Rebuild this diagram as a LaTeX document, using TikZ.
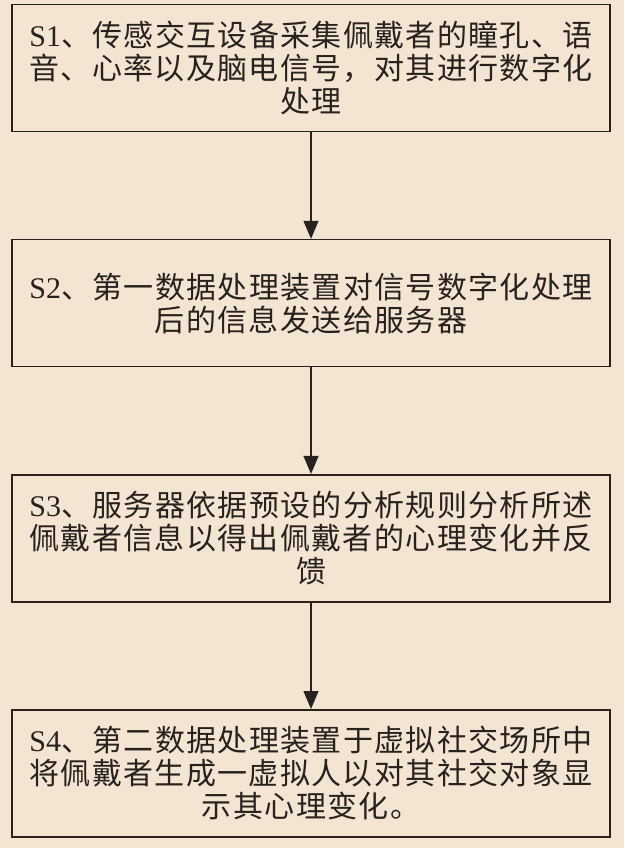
\documentclass[tikz,border=0pt]{standalone}
\usepackage{fontspec}
\setmainfont{Liberation Serif}
\newfontfamily\cjkfont[LetterSpace=4.5]{Noto Sans CJK SC}
\usetikzlibrary{positioning,arrows.meta}
\definecolor{paper}{RGB}{244,228,210}
\definecolor{ink}{RGB}{40,34,30}

\begin{document}
\begin{tikzpicture}
    [
      stepbox/.style = {draw=ink, line width=1.6pt, fill=paper,
        minimum width=598pt, minimum height=127pt, inner sep=0pt,
        text width=590pt, align=center, text=ink,
        font=\cjkfont\fontsize{30}{33}\selectfont},
      flow/.style = {draw=ink, line width=1.2pt,
        -{Triangle[length=18pt,width=15pt]}},
      node distance = 106.5pt,
    ]

    \fill[paper] (0,0) rectangle (624pt,-848pt);
    \useasboundingbox (0,0) rectangle (624pt,-848pt);

    \node[stepbox] (s1) at (311pt,-68pt)
      {\textrm{S1}、传感交互设备采集佩戴者的瞳孔、语\\音、心率以及脑电信号，对其进行数字化\\处理};
    \node[stepbox, below=of s1] (s2)
      {\textrm{S2}、第一数据处理装置对信号数字化处理\\后的信息发送给服务器};
    \node[stepbox, below=of s2] (s3)
      {\textrm{S3}、服务器依据预设的分析规则分析所述\\佩戴者信息以得出佩戴者的心理变化并反\\馈};
    \node[stepbox, below=of s3] (s4)
      {\textrm{S4}、第二数据处理装置于虚拟社交场所中\\将佩戴者生成一虚拟人以对其社交对象显\\示其心理变化。};

    \draw[flow] (s1) -- (s2);
    \draw[flow] (s2) -- (s3);
    \draw[flow] (s3) -- (s4);

\end{tikzpicture}
\end{document}
